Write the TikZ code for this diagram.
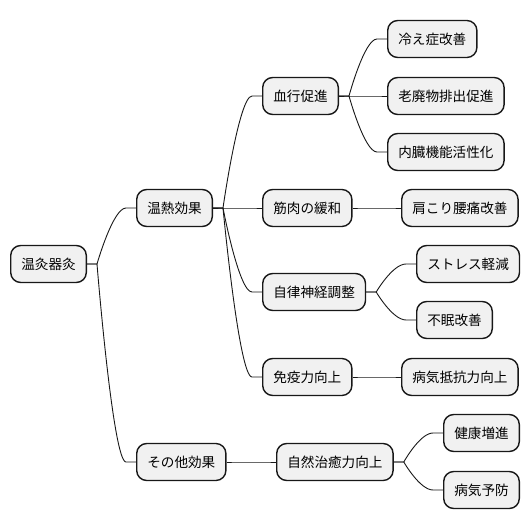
\documentclass[tikz,border=0pt]{standalone}
\usepackage{fontspec}
\setmainfont{Noto Sans CJK JP}
\usepackage{xcolor}
\usetikzlibrary{calc}
\definecolor{boxfill}{HTML}{F1F1F1}
\definecolor{boxline}{HTML}{181818}

\begin{document}
\begin{tikzpicture}[x=1pt,y=-1pt,
      topic/.style={draw=boxline, fill=boxfill, line width=1.4pt, rounded corners=10pt,
        anchor=west, minimum height=37pt, inner xsep=10.6pt, inner ysep=0pt,
        font=\fontsize{13.6}{15}\selectfont},
      link/.style={draw=boxline, line width=0.9pt}]
      \useasboundingbox (0,0) rectangle (530,527);
      \node[topic] (root) at (10,264) {温灸器灸};
      \node[topic] (heat) at (136,208) {温熱効果};
      \node[topic] (other) at (136,462) {その他効果};
      \node[topic] (blood) at (262,96) {血行促進};
      \node[topic] (muscle) at (262,208) {筋肉の緩和};
      \node[topic] (nerve) at (262,292) {自律神経調整};
      \node[topic] (immune) at (262,377) {免疫力向上};
      \node[topic] (healing) at (276,462) {自然治癒力向上};
      \node[topic] (cold) at (387,39) {冷え症改善};
      \node[topic] (waste) at (387,96) {老廃物排出促進};
      \node[topic] (organ) at (387,152) {内臓機能活性化};
      \node[topic] (shoulder) at (401,208) {肩こり腰痛改善};
      \node[topic] (stress) at (416,264) {ストレス軽減};
      \node[topic] (sleep) at (416,320) {不眠改善};
      \node[topic] (resist) at (401,377) {病気抵抗力向上};
      \node[topic] (health) at (443,433) {健康増進};
      \node[topic] (prevent) at (443,490) {病気予防};
      \foreach \from/\to in {root/heat, root/other, heat/blood, heat/muscle, heat/nerve,
          heat/immune, other/healing, blood/cold, blood/waste, blood/organ,
          muscle/shoulder, nerve/stress, nerve/sleep, immune/resist,
          healing/health, healing/prevent} {
        \coordinate (s) at ([xshift=10pt]\from.east);
        \coordinate (e) at ([xshift=-10pt]\to.west);
        \coordinate (m) at ($(s)!0.55!(e)$);
        \draw[link] (\from.east) -- (s) .. controls (s) and (m |- e) .. (e) -- (\to.west);
      }
    \end{tikzpicture}
\end{document}
